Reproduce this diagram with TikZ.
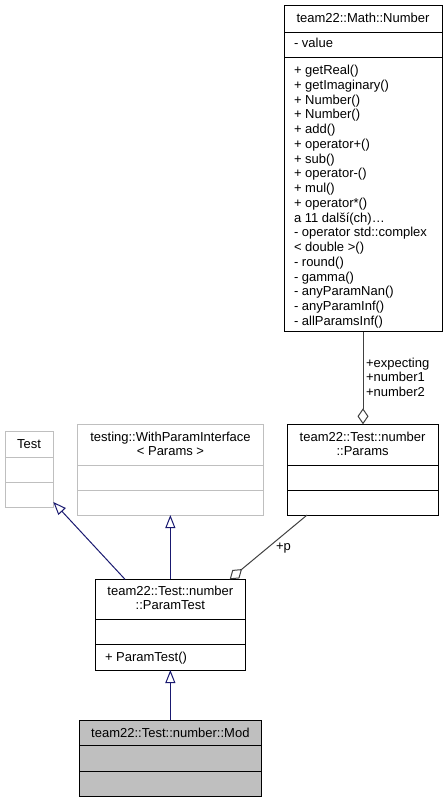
\documentclass[tikz,border=0pt]{standalone}
\usepackage{fontspec}
\setmainfont{Liberation Sans}
\usetikzlibrary{arrows.meta,calc}
\definecolor{edgenavy}{HTML}{191970}
\definecolor{agggray}{HTML}{404040}
\definecolor{boxgray}{HTML}{BFBFBF}
\begin{document}
\begin{tikzpicture}[x=1pt,y=-1pt,
  every node/.style={font=\fontsize{13}{14.75}\selectfont, inner sep=0pt, outer sep=0pt},
  classbox/.style={draw=black, line width=1pt, rectangle, fill=white},
  ghostbox/.style={draw=boxgray, line width=1pt, rectangle, fill=white},
  modbox/.style={draw=black, line width=1pt, rectangle, fill=boxgray},
  sepline/.style={draw=black, line width=1pt},
  ghostsep/.style={draw=boxgray, line width=1pt},
  member/.style={anchor=base west},
  title/.style={anchor=base},
  inh/.style={draw=edgenavy, line width=1pt, -{Triangle[open, length=13pt, width=10pt]}},
  agg/.style={draw=agggray, line width=1pt, -{Diamond[open, length=16pt, width=11pt]}},
  ]
\useasboundingbox (0,0) rectangle (446,803);

% ---- team22::Math::Number
\node[classbox, minimum width=158pt, minimum height=326.7pt] (num) at (363,168.35) {};
\draw[sepline] ([yshift=-27.3pt]num.north west) -- ([yshift=-27.3pt]num.north east);
\draw[sepline] ([yshift=-52.3pt]num.north west) -- ([yshift=-52.3pt]num.north east);
\node[title] (numtitle) at (363,23) {team22::Math::Number};
\node[member] (numattr) at (294,47.3) {- value};
\foreach \txt [count=\i from 0] in {+ getReal(), + getImaginary(), + Number(), + Number(), + add(), + operator+(), + sub(), + operator-(), + mul(), + operator*(), a 11 další(ch)…, - operator std::complex, < double >(), - round(), - gamma(), - anyParamNan(), - anyParamInf(), - allParamsInf()}
  \node[member] (nm\i) at (294,74.5+14.75*\i) {\txt};

% ---- team22::Test::number::Params
\node[classbox, minimum width=151pt, minimum height=90.7pt] (params) at (362.6,469.65) {};
\draw[sepline] ([yshift=-40.7pt]params.north west) -- ([yshift=-40.7pt]params.north east);
\draw[sepline] ([yshift=-65.7pt]params.north west) -- ([yshift=-65.7pt]params.north east);
\node[title] (paramst1) at (362.6,441.3) {team22::Test::number};
\node[title] (paramst2) at (362.6,455.6) {::Params};

% ---- testing::WithParamInterface< Params >
\node[ghostbox, minimum width=185.6pt, minimum height=90.7pt] (wpi) at (170.5,469.65) {};
\draw[ghostsep] ([yshift=-40.7pt]wpi.north west) -- ([yshift=-40.7pt]wpi.north east);
\draw[ghostsep] ([yshift=-65.7pt]wpi.north west) -- ([yshift=-65.7pt]wpi.north east);
\node[title] (wpit1) at (170.5,441.3) {testing::WithParamInterface};
\node[title] (wpit2) at (170.5,455.6) {< Params >};

% ---- Test
\node[ghostbox, minimum width=48.3pt, minimum height=75.3pt] (test) at (29.15,469.35) {};
\draw[ghostsep] ([yshift=-25.3pt]test.north west) -- ([yshift=-25.3pt]test.north east);
\draw[ghostsep] ([yshift=-51pt]test.north west) -- ([yshift=-51pt]test.north east);
\node[title] (testt) at (29.15,448) {Test};

% ---- team22::Test::number::ParamTest
\node[classbox, minimum width=150.7pt, minimum height=90.7pt] (ptest) at (170.35,624.65) {};
\draw[sepline] ([yshift=-40pt]ptest.north west) -- ([yshift=-40pt]ptest.north east);
\draw[sepline] ([yshift=-65pt]ptest.north west) -- ([yshift=-65pt]ptest.north east);
\node[title] (ptestt1) at (170.35,595.6) {team22::Test::number};
\node[title] (ptestt2) at (170.35,609.6) {::ParamTest};
\node[member] (ptestm) at (105,661.6) {+ ParamTest()};

% ---- team22::Test::number::Mod
\node[modbox, minimum width=182.7pt, minimum height=76.7pt] (mod) at (170.35,758.35) {};
\draw[sepline] ([yshift=-25pt]mod.north west) -- ([yshift=-25pt]mod.north east);
\draw[sepline] ([yshift=-51pt]mod.north west) -- ([yshift=-51pt]mod.north east);
\node[title] (modt) at (170.35,737.6) {team22::Test::number::Mod};

% ---- connectors
\draw[agg] (num.south) -- (num.south |- params.north);
\node[member] (lblexp) at (366,367.5) {+expecting};
\node[member] (lbln1) at (366,381.7) {+number1};
\node[member] (lbln2) at (366,396) {+number2};

\draw[agg] ([xshift=20pt]params.south west) -- ([xshift=-16pt]ptest.north east);
\node[member] (lblp) at (276,550.5) {+p};

\draw[inh] ([xshift=30pt]ptest.north west) -- ([yshift=5pt]test.south east);
\draw[inh] (ptest.north) -- (ptest.north |- wpi.south);
\draw[inh] (mod.north) -- (ptest.south);
\end{tikzpicture}
\end{document}
